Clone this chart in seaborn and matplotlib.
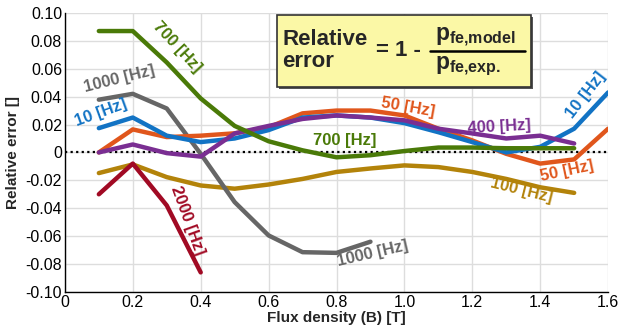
import numpy as np
import pandas as pd
import matplotlib
matplotlib.use("Agg")
import matplotlib.pyplot as plt
import seaborn as sns

# Donnees (erreur relative en fonction de B)
b_full = [0.1, 0.2, 0.3, 0.4, 0.5, 0.6, 0.7, 0.8, 0.9, 1.0, 1.1, 1.2, 1.3, 1.4, 1.5, 1.6]
b_15 = b_full[:15]
b_09 = b_full[:9]
b_04 = b_full[:4]

err_10 = [0.0174, 0.025, 0.012, 0.0074, 0.010, 0.016, 0.025, 0.0265, 0.025, 0.021,
          0.0145, 0.0074, 0.0, 0.004, 0.017, 0.043]
err_50 = [0.0, 0.0165, 0.011, 0.012, 0.0137, 0.018, 0.028, 0.030, 0.030, 0.0265,
          0.017, 0.0086, -0.001, -0.008, -0.005, 0.017]
err_100 = [-0.0148, -0.0086, -0.0177, -0.0237, -0.026, -0.023, -0.019, -0.014,
           -0.0115, -0.0093, -0.0105, -0.014, -0.019, -0.025, -0.029]
err_400 = [0.0, 0.0057, -0.0005, -0.003, 0.0136, 0.019, 0.024, 0.0265, 0.025,
           0.023, 0.017, 0.0136, 0.010, 0.012, 0.0064]
err_700 = [0.087, 0.087, 0.0645, 0.0387, 0.019, 0.008, 0.0015, -0.0035, -0.002,
           0.001, 0.0035, 0.0035, 0.003, 0.003, 0.003]
err_1000 = [0.0378, 0.042, 0.0315, -0.001, -0.0356, -0.0595, -0.0715, -0.072, -0.064]
err_2000 = [-0.030, -0.008, -0.038, -0.086]

frequences = ["100", "2000", "1000", "50", "10", "400", "700"]
couleurs = {"10": "#1273c4", "50": "#e0561c", "100": "#b3830a", "400": "#7a2e92",
            "700": "#4a7a08", "1000": "#666666", "2000": "#a10a24"}

series = {"10": (b_full, err_10), "50": (b_full, err_50), "100": (b_15, err_100),
          "400": (b_15, err_400), "700": (b_15, err_700), "1000": (b_09, err_1000),
          "2000": (b_04, err_2000)}

rows = []
for f in frequences:
    xs, ys = series[f]
    for x, y in zip(xs, ys):
        rows.append({"B": x, "err": y, "freq": f})
df = pd.DataFrame(rows)

sns.set_style("whitegrid")
plt.rcParams["font.family"] = ["Liberation Sans", "DejaVu Sans"]
plt.rcParams["mathtext.fontset"] = "custom"
plt.rcParams["mathtext.bf"] = "Liberation Sans:bold"
plt.rcParams["mathtext.rm"] = "Liberation Sans"

fig = plt.figure(figsize=(6.18, 3.31), dpi=100)
ax = fig.add_axes([0.105, 0.118, 0.879, 0.843])

sns.lineplot(data=df, x="B", y="err", hue="freq", hue_order=frequences,
             palette=couleurs, lw=3.2, legend=False, ax=ax, sort=False)

ax.axhline(0, color="black", ls=(0, (1, 1.5)), lw=1.6, zorder=1)

ax.set_xlim(0, 1.6)
ax.set_ylim(-0.10, 0.10)
ax.set_xticks(np.arange(0, 1.61, 0.2))
ax.set_xticklabels(["0", "0.2", "0.4", "0.6", "0.8", "1.0", "1.2", "1.4", "1.6"])
yt = np.arange(-0.10, 0.101, 0.02)
ax.set_yticks(yt)
ax.set_yticklabels(["0" if abs(v) < 1e-9 else f"{v:.2f}" for v in yt])
ax.tick_params(direction="in", length=4, labelsize=11.5, pad=2, colors="black")
ax.grid(True, color="#dddddd", lw=1)
for s in ["left", "bottom"]:
    ax.spines[s].set_color("black")
    ax.spines[s].set_linewidth(1)
for s in ["top", "right"]:
    ax.spines[s].set_visible(False)

ax.set_xlabel("Flux density (B) [T]", fontsize=11, fontweight="bold", labelpad=1)
ax.set_ylabel("Relative error []", fontsize=11, fontweight="bold", labelpad=4)

# Etiquettes des courbes
etiquettes = [
    ("700 [Hz]", 0.33, 0.0755, -47, "700"),
    ("1000 [Hz]", 0.16, 0.053, 14, "1000"),
    ("10 [Hz]", 0.105, 0.0285, 20, "10"),
    ("700 [Hz]", 0.825, 0.0086, 0, "700"),
    ("50 [Hz]", 1.01, 0.032, -10, "50"),
    ("400 [Hz]", 1.28, 0.0186, 3, "400"),
    ("10 [Hz]", 1.535, 0.041, 52, "10"),
    ("50 [Hz]", 1.48, -0.0136, 12, "50"),
    ("100 [Hz]", 1.345, -0.027, -14, "100"),
    ("2000 [Hz]", 0.36, -0.049, -70, "2000"),
    ("1000 [Hz]", 0.905, -0.0725, 13, "1000"),
]
for txt, x, y, rot, f in etiquettes:
    ax.text(x, y, txt, color=couleurs[f], fontsize=12, fontweight="bold",
            rotation=rot, ha="center", va="center", rotation_mode="anchor")

# Encadre avec la definition de l'erreur relative
ombre = plt.Rectangle((0.451, 0.732), 0.412, 0.217, transform=fig.transFigure,
                      facecolor="#555555", edgecolor="none", zorder=4)
fig.add_artist(ombre)
box = plt.Rectangle((0.448, 0.738), 0.412, 0.217, transform=fig.transFigure,
                    facecolor="#fbf8a6", edgecolor="#333333", lw=1.2, zorder=5)
fig.add_artist(box)
fig.text(0.457, 0.848, "Relative\nerror", fontsize=16, fontweight="bold",
         ha="left", va="center", linespacing=1.08, zorder=6)
fig.text(0.608, 0.846, "= 1 -", fontsize=16, fontweight="bold",
         ha="left", va="center", zorder=6)
fig.text(0.704, 0.887, r"$\mathbf{p}_{\mathbf{fe{,}model}}$", fontsize=16.5,
         ha="left", va="center", zorder=6)
fig.text(0.704, 0.800, r"$\mathbf{p}_{\mathbf{fe{,}exp.}}$", fontsize=16.5,
         ha="left", va="center", zorder=6)
fig.add_artist(plt.Line2D([0.696, 0.850], [0.847, 0.847], transform=fig.transFigure,
                          color="black", lw=1.8, zorder=6))

plt.savefig("out.png", dpi=100)
plt.close()
